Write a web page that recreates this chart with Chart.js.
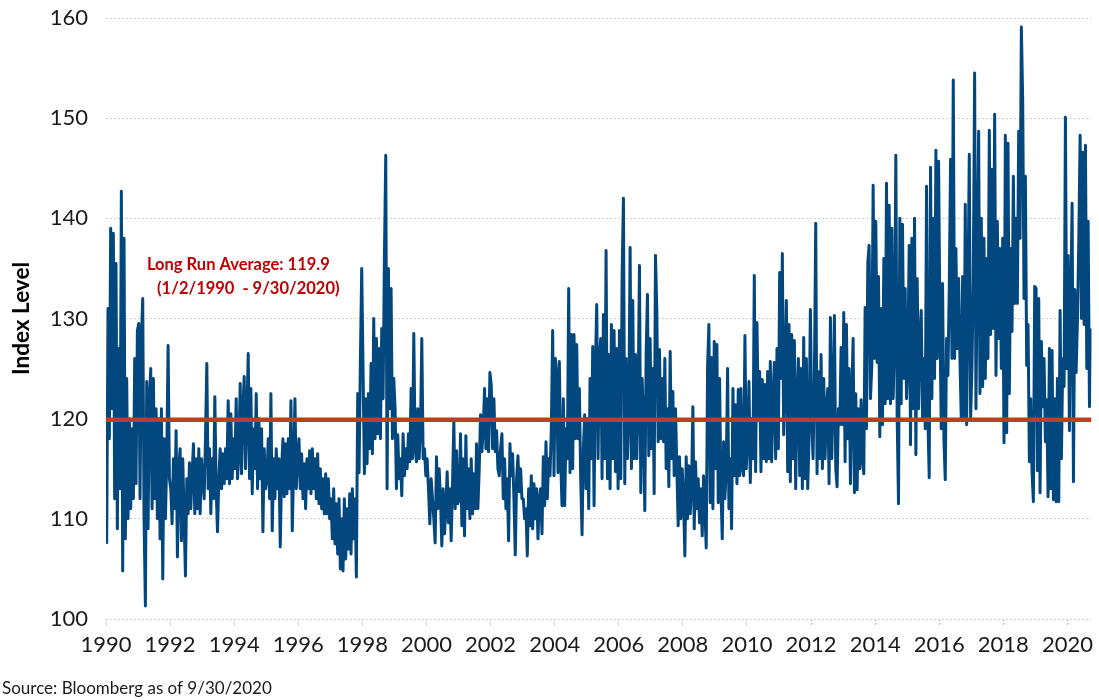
<!DOCTYPE html>
<html>
<head>
<meta charset="utf-8">
<title>Index Level 1990-2020</title>
<script src="https://cdn.jsdelivr.net/npm/chart.js@4.4.1/dist/chart.umd.min.js"></script>
<style>
  html, body { margin: 0; padding: 0; background: #fff; }
</style>
</head>
<body>
<canvas id="indexChart" width="1099" height="700"></canvas>
<script>
// half-monthly swings (high / low), one array per year
const lvl1990 = [107.5, 131, 118, 139, 121, 138.5, 112, 135.5, 109, 127, 113, 142.7, 104.8, 138, 108, 124, 110, 120, 111, 119, 112, 126, 113.5, 128.8];
const lvl1991 = [129.5, 112, 128, 132, 110, 101.3, 123.7, 109, 122, 125, 111, 124, 112, 121, 110, 120, 108, 121, 104, 118, 110, 116, 127.3, 114];
const lvl1992 = [113, 109.5, 116, 111, 118.8, 106.2, 115, 117, 107.8, 116, 110, 104.3, 114, 110.5, 115.6, 111, 114.5, 117.5, 110.5, 116, 111, 117, 110.5, 116];
const lvl1993 = [114, 112, 118, 125.5, 113, 117, 110.5, 116, 112, 122.2, 113, 108.7, 114, 117, 113, 116.5, 113.5, 117, 114, 121.8, 113.5, 120.5, 114, 118];
const lvl1994 = [115, 122, 114, 116.5, 123.5, 114.5, 121, 124.2, 115, 120, 126.5, 114, 123, 112.5, 119, 115, 122.5, 113, 120, 114, 119, 108.7, 117, 113];
const lvl1995 = [114, 118, 112, 122.5, 108.8, 116, 112, 117, 113, 116, 107.2, 115, 118, 112.2, 117.5, 112.5, 118, 113, 121.8, 108.8, 115, 122, 113, 116];
const lvl1996 = [118, 113, 116.5, 112, 115.5, 111, 116, 113, 116.8, 112.5, 117, 113, 116, 112, 116.5, 111.5, 115, 111, 114, 110.5, 114.5, 110.5, 114, 110];
const lvl1997 = [112, 108, 113, 107.5, 111.5, 106.5, 112, 105, 110, 104.8, 112, 106, 111, 107, 112.5, 106.5, 113, 108, 112, 104.2, 122.5, 114.6, 125.7, 135];
const lvl1998 = [125, 114.5, 122, 115.5, 122.5, 117, 125.5, 116.5, 130, 118, 128, 118.5, 127, 118, 129, 122, 136, 146.3, 113, 135, 121, 133, 118, 124];
const lvl1999 = [121, 113, 118.4, 114, 116, 112.3, 118.5, 114.3, 117, 115, 118.5, 115.7, 123, 116, 128.5, 117, 115.7, 121, 116, 119, 128, 116, 117, 114.3];
const lvl2000 = [116, 113, 109.5, 114, 112, 110, 107.6, 116.2, 111, 115, 112, 107.3, 113, 108.5, 111, 114.7, 109.6, 113, 107.8, 113.5, 119.7, 111, 116.8, 111.5];
const lvl2001 = [112, 118.5, 109.3, 116, 108.3, 118.3, 111, 115, 110, 116, 110.5, 114.5, 111, 117.5, 111, 115, 120.4, 116.7, 119, 123, 117, 122, 116.7, 124.6];
const lvl2002 = [123.4, 117, 122, 116.7, 118.8, 115, 114.3, 117, 118.5, 112, 116, 111, 114, 107.8, 117.5, 114.3, 116.5, 112, 106.4, 114, 116.3, 112.7, 115, 112];
const lvl2003 = [112, 110, 111, 106.3, 113, 109.3, 114.3, 109, 113.5, 110, 113, 108, 112, 113, 108.5, 116.2, 111.3, 117.7, 112, 116, 114.3, 119, 128.8, 114.3];
const lvl2004 = [126, 124.4, 114.6, 125.7, 116, 111.3, 122, 111.3, 119, 116, 133, 114.6, 128.4, 115, 128.4, 118, 127.4, 118, 123, 114, 108.4, 117, 120.4, 113];
const lvl2005 = [120, 111, 124, 116, 127.2, 111.3, 125, 131.4, 116, 126, 128, 114, 130.4, 116, 136.8, 114, 126.4, 113, 129.4, 116, 128.8, 114.7, 127, 113];
const lvl2006 = [128.8, 114, 134.1, 142, 113.5, 126, 116, 120, 137.1, 115, 131.8, 116, 126.4, 116, 122, 135.3, 112.6, 124, 120, 110.8, 126.5, 132.4, 116.3, 128];
const lvl2007 = [117, 125, 112.5, 136.3, 130.8, 117.7, 126.9, 118, 124, 117.7, 126, 115, 121, 113.2, 126.7, 116, 122.7, 114.3, 121, 115, 109.3, 116.2, 110, 115];
const lvl2008 = [112, 106.3, 116.2, 110, 115.3, 110.5, 113, 121.2, 109, 115.7, 111, 114, 109.6, 113, 108.3, 114.3, 111, 107.1, 125.1, 129.4, 111.6, 126.1, 111, 127.7];
const lvl2009 = [115, 127.4, 111.6, 124, 113, 108, 117.7, 112, 115, 125, 111, 116, 109, 123, 114.3, 121.4, 113.5, 122.9, 114.3, 123, 115, 114.3, 128.3, 115];
const lvl2010 = [118, 123.7, 113.6, 120, 116, 134.3, 114.7, 129.6, 120, 124.7, 114.7, 123.9, 116, 123.4, 115.7, 124.7, 116, 125.7, 115.7, 122, 125.6, 116, 127, 117];
const lvl2011 = [134.6, 124, 136.5, 118.4, 124, 131.8, 114.7, 129.4, 113.7, 128.4, 116, 127.8, 113, 122, 126, 114.3, 125, 113, 128.1, 114, 126, 113, 118, 130.9];
const lvl2012 = [120, 116, 124, 139.5, 114.5, 124.7, 116, 126.4, 115, 124, 116, 121, 123, 113.5, 130.1, 116, 122, 130.3, 115, 113.2, 121, 119.4, 127.1, 119.4];
const lvl2013 = [130.6, 115.7, 129.4, 118, 125, 113.5, 122, 128, 112.6, 122.5, 112.9, 121, 115, 121.9, 116, 114.5, 131.1, 119, 135.6, 137.3, 122, 125.3, 143.3, 126];
const lvl2014 = [139.7, 125.6, 134.2, 118.2, 131, 119.4, 136, 121.5, 143.5, 122, 141.3, 121.5, 139, 122, 128, 146.3, 120, 111.5, 140, 121.5, 139.4, 124, 133, 122];
const lvl2015 = [126, 137.3, 117.4, 138, 121, 140, 116.4, 134, 121, 128, 130.8, 120.1, 126, 119, 143.2, 120, 114.1, 145.1, 122, 140, 124, 146.8, 126, 145.7];
const lvl2016 = [130, 119, 133.5, 118, 113.9, 128, 124.3, 133, 145.9, 126, 153.8, 126, 137, 127, 134, 126, 120, 134.2, 120, 141.4, 119.4, 132.2, 146.4, 120];
const lvl2017 = [125, 134, 154.5, 121, 136, 148.7, 122.5, 140, 123.2, 138, 124, 136, 126, 148.8, 128.4, 144.9, 129, 150.4, 124.3, 139.7, 128, 137, 125, 138];
const lvl2018 = [117.6, 148.3, 118.6, 147.5, 122.5, 137, 128.7, 144.2, 131.5, 140, 131.5, 148.7, 138, 159.1, 151.8, 132, 144.2, 125.3, 129.4, 115.7, 122, 114.6, 111.7, 133.2];
const lvl2019 = [133, 114.8, 132, 112.6, 127.7, 121.2, 126, 117.7, 121.9, 112.2, 127, 113, 126.8, 111.9, 122, 111.7, 124, 111.7, 130.8, 116, 126, 123.2, 150.1, 125];
const lvl2020 = [136.3, 118.8, 131.8, 141.5, 113.7, 132.9, 124.6, 129.8, 137.7, 148.3, 130, 146.6, 129.4, 147.3, 125, 139.7, 121.2, 129];

const years = [1990, 1991, 1992, 1993, 1994, 1995, 1996, 1997, 1998, 1999, 2000, 2001, 2002, 2003, 2004, 2005,
               2006, 2007, 2008, 2009, 2010, 2011, 2012, 2013, 2014, 2015, 2016, 2017, 2018, 2019, 2020];
const yearLevels = [lvl1990, lvl1991, lvl1992, lvl1993, lvl1994, lvl1995, lvl1996, lvl1997, lvl1998, lvl1999, lvl2000,
                    lvl2001, lvl2002, lvl2003, lvl2004, lvl2005, lvl2006, lvl2007, lvl2008, lvl2009, lvl2010, lvl2011,
                    lvl2012, lvl2013, lvl2014, lvl2015, lvl2016, lvl2017, lvl2018, lvl2019, lvl2020];
const lastYearSpan = 0.75; // series stops 9/30/2020

const avgLevel = 119.9;
const avgRange = [1990, 2020.75];
const yearTicks = [1990, 1992, 1994, 1996, 1998, 2000, 2002, 2004, 2006, 2008, 2010, 2012, 2014, 2016, 2018, 2020];
const levelTicks = [100, 110, 120, 130, 140, 150, 160];
const avgLabel = ['Long Run Average: 119.9', '(1/2/1990  - 9/30/2020)'];
const sourceNote = 'Source: Bloomberg as of 9/30/2020';

// spread each year's readings evenly across that year
const points = [];
years.forEach((yr, k) => {
  const vals = yearLevels[k];
  const span = yr === 2020 ? lastYearSpan : 1;
  vals.forEach((v, i) => points.push({ x: yr + span * (i + 0.5) / vals.length, y: v }));
});
const avgPoints = avgRange.map(x => ({ x: x, y: avgLevel }));

// text that sits on the plot: the average note and the source line
const notesPlugin = {
  id: 'notes',
  afterDraw(chart) {
    const { ctx, scales } = chart;
    ctx.save();
    ctx.fillStyle = '#c00000';
    ctx.font = 'bold 16.5px Lato';
    ctx.textBaseline = 'middle';
    ctx.textAlign = 'center';
    ctx.fillText(avgLabel[0], scales.x.getPixelForValue(1994.13), scales.y.getPixelForValue(135.4));
    ctx.fillText(avgLabel[1], scales.x.getPixelForValue(1994.44), scales.y.getPixelForValue(133.0));
    ctx.fillStyle = '#1a1a1a';
    ctx.font = '17px Lato';
    ctx.textAlign = 'left';
    ctx.textBaseline = 'alphabetic';
    ctx.fillText(sourceNote, 2, 694);
    ctx.restore();
  }
};

const ctx = document.getElementById('indexChart').getContext('2d');
new Chart(ctx, {
  type: 'line',
  data: {
    datasets: [
      {
        label: 'Long Run Average',
        data: avgPoints,
        borderColor: '#c23b22',
        borderWidth: 4.5,
        pointRadius: 0,
        order: 0
      },
      {
        label: 'Index Level',
        data: points,
        borderColor: '#03477f',
        borderWidth: 3,
        borderJoinStyle: 'round',
        pointRadius: 0,
        order: 1
      }
    ]
  },
  options: {
    responsive: false,
    animation: false,
    layout: { padding: { left: 0, right: 2, top: 0, bottom: 40 } },
    plugins: {
      legend: { display: false },
      tooltip: { enabled: false }
    },
    scales: {
      x: {
        type: 'linear',
        min: 1990,
        max: 2020.75,
        afterBuildTicks: s => { s.ticks = yearTicks.map(v => ({ value: v })); },
        afterFit: s => { s.height = 41; },
        ticks: {
          callback: v => String(v),
          font: { family: 'Lato', size: 22 },
          color: '#1a1a1a',
          padding: 6,
          maxRotation: 0,
          autoSkip: false
        },
        grid: {
          drawOnChartArea: false,
          drawTicks: true,
          tickLength: 7,
          tickColor: '#bdbdbd',
          tickBorderDash: [2, 2]
        },
        border: { display: false }
      },
      y: {
        min: 100,
        max: 160,
        afterBuildTicks: s => { s.ticks = levelTicks.map(v => ({ value: v })); },
        afterFit: s => { s.width = 106; s.paddingTop = 18; s.paddingBottom = 0; },
        ticks: {
          font: { family: 'Lato', size: 22 },
          color: '#1a1a1a',
          padding: 18
        },
        grid: { color: '#cfcfcf', drawTicks: false, lineWidth: 1 },
        border: { display: false, dash: [2, 2] },
        title: {
          display: true,
          text: 'Index Level',
          font: { family: 'Lato', size: 22.5, weight: 'bold' },
          color: '#000',
          padding: { top: 8, bottom: 0 }
        }
      }
    }
  },
  plugins: [notesPlugin]
});
</script>
</body>
</html>
